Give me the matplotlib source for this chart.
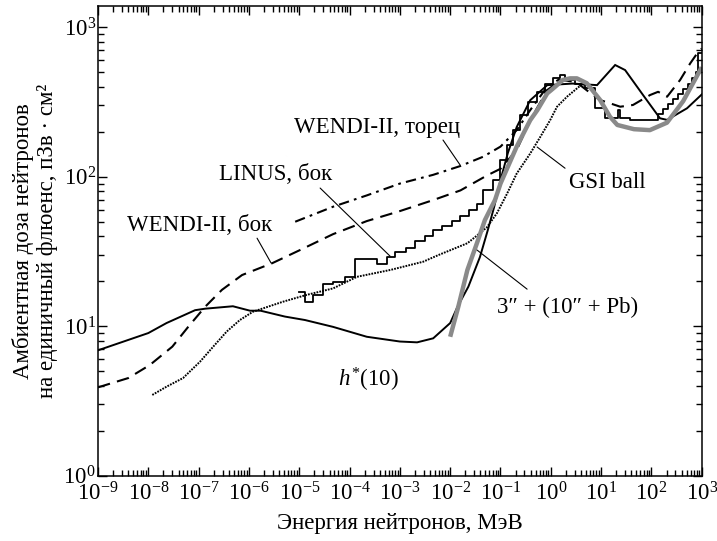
import matplotlib
matplotlib.use('Agg')
import matplotlib.pyplot as plt
from matplotlib.ticker import LogLocator, LogFormatterMathtext, NullFormatter

plt.rcParams['font.family'] = ['Liberation Serif', 'DejaVu Serif']
plt.rcParams['mathtext.fontset'] = 'custom'
plt.rcParams['mathtext.rm'] = 'Liberation Serif'
plt.rcParams['mathtext.it'] = 'Liberation Serif:italic'
plt.rcParams['mathtext.bf'] = 'Liberation Serif:bold'

# ---------------- data ----------------
# h*(10) (solid)
h10_E = [1e-9, 1e-8, 2.3e-8, 8.5e-8, 1.35e-7, 4.8e-7, 1.05e-6, 1.7e-6, 5.2e-6, 1.3e-5,
         4.7e-5, 2.2e-4, 1e-3, 2.2e-3, 4.6e-3, 1e-2, 1.4e-2, 2.3e-2, 3.9e-2, 5.6e-2,
         7.5e-2, 0.1, 0.14, 0.21, 0.39, 0.85, 2.7, 8.3, 19, 30, 69, 148, 205, 510, 1000]
h10_D = [6.9, 9.0, 10.5, 12.8, 13.1, 13.6, 12.7, 12.7, 11.6, 11.0,
         9.9, 8.5, 7.9, 7.8, 8.3, 10.5, 13.5, 18.4, 29, 44,
         63, 95, 144, 215, 325, 410, 420, 410, 559, 517, 350, 246, 240, 287, 355]

# WENDI-II, side (dashed)
wside_E = [1e-9, 4e-9, 1.07e-8, 3e-8, 6.2e-8, 1.35e-7, 2.9e-7, 7.3e-7, 2.9e-6, 1.05e-5,
           4.7e-5, 2.2e-4, 1e-3, 4.6e-3, 1.6e-2, 5.4e-2, 0.1, 0.21, 0.39, 0.85,
           1.6, 3.2, 6.3, 9.5, 15, 24, 43, 94, 136, 205, 372, 590, 810, 1000]
wside_D = [3.9, 4.5, 5.5, 7.3, 9.9, 13.5, 17.5, 22, 26.4, 32.4,
           41.3, 50.5, 58.9, 69.8, 81, 102, 113, 151, 239, 380,
           444, 430, 360, 326, 310, 294, 302, 352, 370, 343, 444, 573, 668, 720]

# WENDI-II, end (dash-dot)
wend_E = [8.3e-6, 4.7e-5, 2.2e-4, 1e-3, 4.6e-3, 1.6e-2, 4.5e-2, 0.1, 0.21, 0.39, 0.85, 1.5]
wend_D = [50, 63, 75, 90, 103, 118, 136, 159, 205, 279, 400, 450]

# dotted curve
dot_E = [1.2e-8, 2.3e-8, 4.9e-8, 1.07e-7, 1.95e-7, 3.6e-7, 6.6e-7, 1.2e-6, 4.8e-6, 1.4e-5,
         4.7e-5, 1.4e-4, 6.5e-4, 2.9e-3, 5.8e-3, 2.2e-2, 3.5e-2, 5.4e-2, 8.5e-2, 0.135,
         0.21, 0.39, 0.62, 0.97, 1.33, 2.1, 3.8, 4.5]
dot_D = [3.47, 3.94, 4.5, 5.8, 7.3, 9.2, 11.0, 12.5, 14.6, 16.2,
         17.9, 21.4, 23.8, 27, 29.9, 35.9, 40.7, 46, 57, 77,
         105, 143, 185, 239, 294, 343, 405, 410]

# LINUS, side (stairs): left bin edges and values
linus_E = [1.0e-5, 1.30e-5, 1.88e-5, 2.97e-5, 4.70e-5, 8.15e-5, 1.29e-4, 3.52e-4, 5.57e-4, 8.04e-4,
           1.33e-3, 2.00e-3, 3.17e-3, 4.57e-3, 6.90e-3, 1.09e-2, 1.57e-2, 2.38e-2, 3.43e-2, 4.51e-2,
           7.13e-2, 9.8e-2, 0.135, 0.178, 0.245, 0.354, 0.535, 0.771, 1.11, 1.53,
           1.92, 3.04, 4.81, 7.6, 12.0, 21.8, 23.9, 37.8, 136, 171,
           215, 270, 340, 427, 536, 644, 774, 847, 1000]
linus_D = [17.0, 14.6, 16.2, 19.2, 19.8, 21.3, 28.2, 26.1, 29.2, 31.4,
           33.4, 37.1, 40.1, 43.7, 46.8, 50.5, 55.0, 59.9, 65.2, 81.5,
           95, 129, 163, 205, 259, 316, 369, 417, 458, 479,
           444, 417, 392, 287, 249, 279, 246, 239, 262, 284,
           306, 331, 357, 386, 417, 457, 502, 671, 671]

# grey thick curve
grey_E = [0.01, 0.0145, 0.022, 0.034, 0.049, 0.078, 0.1, 0.21, 0.39, 0.54,
          0.85, 1.12, 1.74, 2.4, 3.3, 5.2, 9.5, 15, 21, 45, 93, 204, 427, 1000]
grey_D = [8.5, 13.5, 23.8, 35.9, 51.3, 70, 90, 159, 239, 279,
          361, 390, 444, 455, 455, 422, 327, 252, 222, 208, 205, 230, 320, 540]

FS = 16.5

fig = plt.figure(figsize=(7.17, 5.41), dpi=100)
ax = fig.add_axes([0.1367, 0.1207, 0.842, 0.8682])
ax.set_xscale('log')
ax.set_yscale('log')

ax.plot(h10_E, h10_D, color='black', lw=1.4, solid_joinstyle='miter')
ax.plot(wside_E, wside_D, color='black', lw=1.5, dashes=(6, 3.5))
ax.plot(wend_E, wend_D, color='black', lw=1.5, dashes=(5, 2.5, 1.3, 2.5))
ax.plot(dot_E, dot_D, color='black', lw=1.4, linestyle=(0, (0.9, 0.6)))
ax.plot(linus_E, linus_D, color='black', lw=1.3, drawstyle='steps-post')
ax.plot(grey_E, grey_D, color='#8a8a8a', lw=3.2, solid_capstyle='butt')

ax.set_xlim(1e-9, 1e3)
ax.set_ylim(1, 1387)

ax.xaxis.set_major_locator(LogLocator(base=10, numticks=30))
ax.xaxis.set_minor_locator(LogLocator(base=10, subs=range(2, 10), numticks=30))
ax.yaxis.set_major_locator(LogLocator(base=10, numticks=10))
ax.yaxis.set_minor_locator(LogLocator(base=10, subs=range(2, 10), numticks=10))
ax.xaxis.set_major_formatter(LogFormatterMathtext())
ax.yaxis.set_major_formatter(LogFormatterMathtext())
ax.xaxis.set_minor_formatter(NullFormatter())
ax.yaxis.set_minor_formatter(NullFormatter())

ax.tick_params(which='both', direction='in', top=True, right=True, width=1.0, color='black')
ax.tick_params(which='major', length=6.5)
ax.tick_params(which='minor', length=4.3)
ax.tick_params(axis='x', which='major', labelsize=FS, pad=4.5)
ax.tick_params(axis='y', which='major', labelsize=FS, pad=1.5)
for s in ax.spines.values():
    s.set_linewidth(1.1)

fig.text(35 / 717, 0.5545, 'Амбиентная доза нейтронов\nна единичный флюенс, пЗв · см²',
         rotation=90, ha='center', va='center', fontsize=FS, linespacing=1.2)
fig.text(400 / 717, 1 - 523 / 541, 'Энергия нейтронов, МэВ', ha='center', va='center', fontsize=FS)

leader = dict(arrowstyle='-', lw=0.8, color='black', shrinkA=0, shrinkB=0)
ax.text(3.5e-4, 212, 'WENDI-II, торец', ha='center', va='center', fontsize=FS)
ax.annotate('', xy=(1.57e-2, 120), xytext=(7.2e-3, 176), arrowprops=leader)
ax.text(3.46e-6, 103, 'LINUS, бок', ha='center', va='center', fontsize=FS)
ax.annotate('', xy=(6.4e-4, 29.4), xytext=(2.6e-5, 84), arrowprops=leader)
ax.text(1.07e-7, 47.4, 'WENDI-II, бок', ha='center', va='center', fontsize=FS)
ax.annotate('', xy=(2.75e-6, 26.5), xytext=(1.45e-6, 38.8), arrowprops=leader)
ax.text(13.2, 92, 'GSI ball', ha='center', va='center', fontsize=FS)
ax.annotate('', xy=(0.535, 158), xytext=(1.92, 114), arrowprops=leader)
ax.text(2.11, 13.4, '3″ + (10″ + Pb)', ha='center', va='center', fontsize=FS)
ax.annotate('', xy=(0.0343, 32.3), xytext=(0.338, 17.7), arrowprops=leader)
ax.text(2.4e-4, 4.4, r'$h^{*}$(10)', ha='center', va='center', fontsize=FS)

fig.savefig('out.png', dpi=100)
